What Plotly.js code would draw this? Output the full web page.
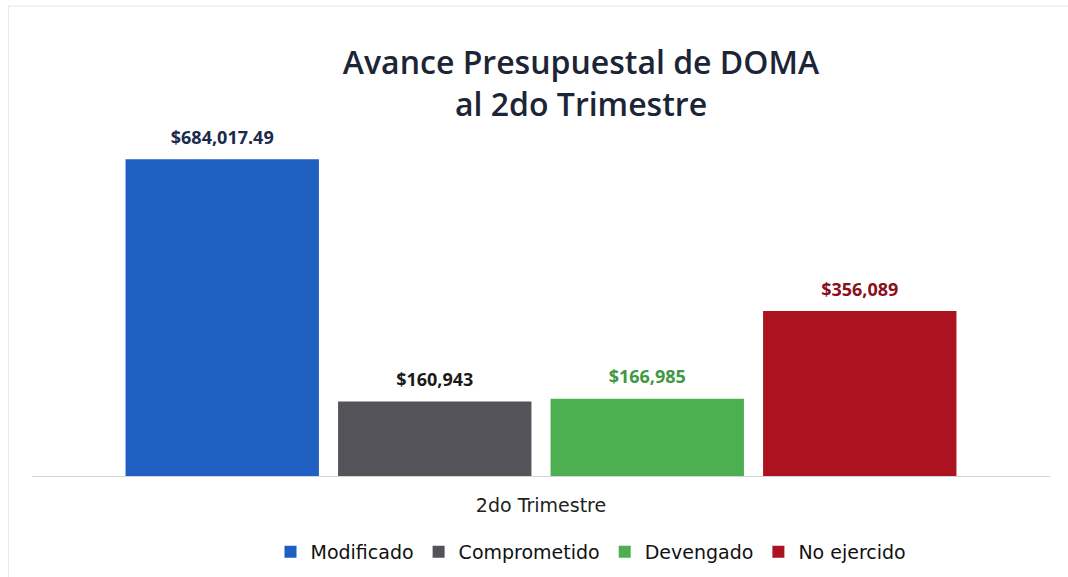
<!DOCTYPE html>
<html>
<head>
<meta charset="utf-8">
<script src="https://cdn.plot.ly/plotly-3.0.1.min.js"></script>
<style>
  html, body { margin: 0; padding: 0; background: #fff; }
  #chart { width: 1068px; height: 577px; }
</style>
</head>
<body>
<div id="chart"></div>
<script>
// DATA
var periodo = ['2do Trimestre'];
var series = ['Modificado', 'Comprometido', 'Devengado', 'No ejercido'];
var montos = [684017.49, 160943, 166985, 356089];
var etiquetas = ['$684,017.49', '$160,943', '$166,985', '$356,089'];
var colores = ['#1f5fc1', '#545359', '#4caf50', '#ad1221'];
var coloresTexto = ['#1b2a4e', '#1a1a1a', '#3f9a3f', '#8a1020'];

CHART = document.getElementById('chart');

var data = series.map(function (nombre, i) {
  return {
    x: periodo,
    y: [montos[i]],
    name: nombre,
    type: 'bar',
    marker: {color: colores[i]},
    text: [etiquetas[i]],
    // small base font keeps the spacer line short, lifting the label off the bar
    texttemplate: '<span style="font-size:18px">%{text}</span><br> ',
    textposition: 'outside',
    textfont: {family: 'Open Sans, sans-serif', size: 8, color: coloresTexto[i], weight: 'bold'},
    cliponaxis: false,
    hoverinfo: 'name+y'
  };
});

var layout = {
  width: 1068,
  height: 577,
  paper_bgcolor: '#ffffff',
  plot_bgcolor: '#ffffff',
  margin: {l: 32, r: 18, t: 100, b: 101},
  barmode: 'group',
  bargap: 0.165,
  bargroupgap: 0.09,
  title: {
    text: 'Avance Presupuestal de DOMA<br>al 2do Trimestre',
    font: {family: 'Open Sans, sans-serif', size: 32, color: '#1c2536', weight: 600},
    x: 581 / 1068,
    xanchor: 'center',
    y: 1 - 74 / 577,
    yref: 'container',
    yanchor: 'middle'
  },
  xaxis: {
    showline: true,
    linecolor: '#d4d4d4',
    linewidth: 1,
    ticks: '',
    automargin: false,
    tickfont: {family: 'DejaVu Sans, sans-serif', size: 19, color: '#222'},
    ticklabelstandoff: 12
  },
  yaxis: {
    range: [0, 812000],
    visible: false,
    showgrid: false,
    zeroline: false
  },
  showlegend: true,
  legend: {
    orientation: 'h',
    xref: 'container',
    yref: 'container',
    x: 591 / 1068,
    xanchor: 'center',
    y: 1 - 552 / 577,
    yanchor: 'middle',
    font: {family: 'DejaVu Sans, sans-serif', size: 19, color: '#111'},
    itemwidth: 30,
    traceorder: 'normal'
  },
  shapes: [{
    type: 'rect', xref: 'paper', yref: 'paper',
    x0: -0.023, x1: 1.02, y0: -0.36, y1: 1.25,
    line: {color: '#e6e6e6', width: 1}
  }]
};

Plotly.newPlot(CHART, data, layout, {displayModeBar: false});
</script>
</body>
</html>
